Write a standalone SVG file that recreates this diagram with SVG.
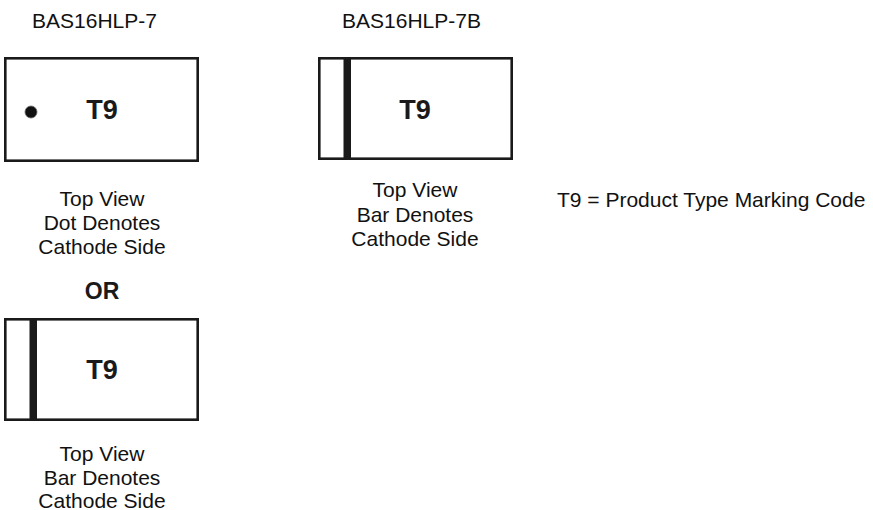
<svg xmlns="http://www.w3.org/2000/svg" width="873" height="510" viewBox="0 0 873 510">
<style>
.box{fill:#fff;stroke:#1a1a1a;stroke-width:2.6}
.bar{fill:#1a1a1a}
.t{font-family:"Liberation Sans",Arial,sans-serif;font-size:21px;fill:#111}
.c{text-anchor:middle}
.b{font-family:"Liberation Sans",Arial,sans-serif;font-weight:bold;fill:#1a1a1a;text-anchor:middle}
</style>
<rect width="873" height="510" fill="#fff"/>
<g id="label-7">
<text class="t" x="32" y="28">BAS16HLP-7</text>
</g>
<g id="label-7B">
<text class="t" x="342" y="28">BAS16HLP-7B</text>
</g>
<g id="pkg-dot">
<rect class="box" x="5.3" y="58.3" width="192.4" height="102.4"/>
<circle cx="31" cy="112" r="6" fill="#111" stroke="#666" stroke-width="0.8"/>
<text class="b" x="102" y="119" font-size="27">T9</text>
</g>
<g id="caption-dot">
<text class="t c" x="102" y="206">Top View</text>
<text class="t c" x="102" y="230">Dot Denotes</text>
<text class="t c" x="102" y="254">Cathode Side</text>
</g>
<g id="pkg-bar-7B">
<rect class="box" x="319.3" y="58.3" width="192.4" height="100.4"/>
<rect class="bar" x="343.5" y="58.3" width="7.5" height="100.4"/>
<text class="b" x="415" y="119" font-size="27">T9</text>
</g>
<g id="caption-bar-7B">
<text class="t c" x="415" y="197">Top View</text>
<text class="t c" x="415" y="222">Bar Denotes</text>
<text class="t c" x="415" y="246">Cathode Side</text>
</g>
<g id="legend">
<text class="t" x="557" y="207">T9 = Product Type Marking Code</text>
</g>
<g id="or">
<text class="b" x="102" y="299" font-size="23">OR</text>
</g>
<g id="pkg-bar-alt">
<rect class="box" x="5.3" y="319.3" width="192.4" height="100.4"/>
<rect class="bar" x="29.5" y="319.3" width="7.5" height="100.4"/>
<text class="b" x="102" y="379" font-size="27">T9</text>
</g>
<g id="caption-bar-alt">
<text class="t c" x="102" y="461">Top View</text>
<text class="t c" x="102" y="485">Bar Denotes</text>
<text class="t c" x="102" y="508">Cathode Side</text>
</g>
<g id="connectors"></g>
</svg>
